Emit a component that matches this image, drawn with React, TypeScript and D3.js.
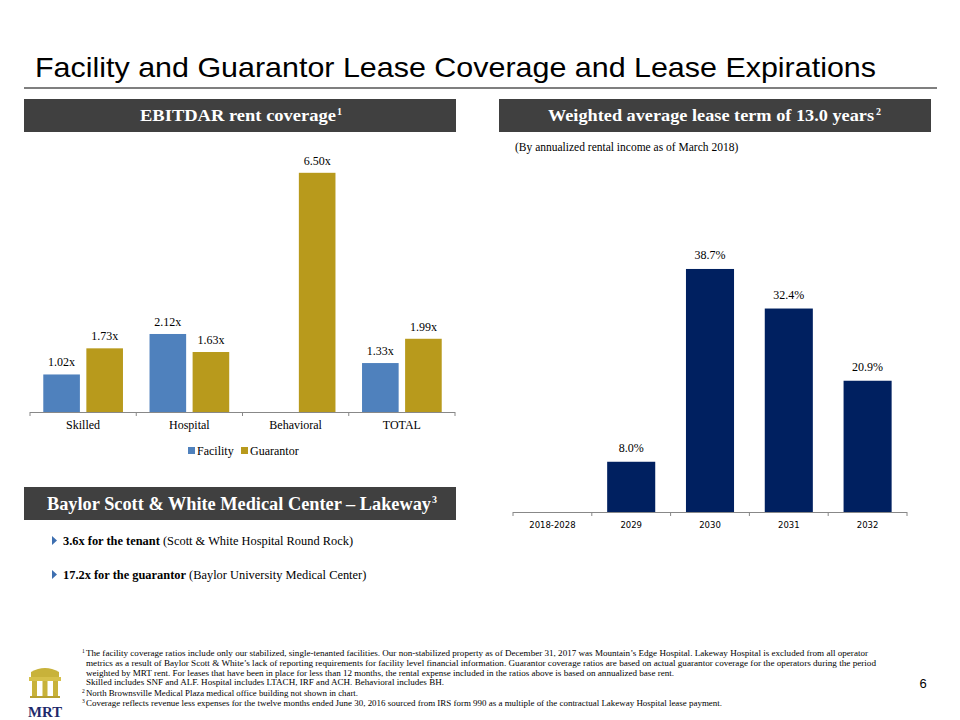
import React from "react";
import * as d3 from "d3";

const coverageCategories = ["Skilled", "Hospital", "Behavioral", "TOTAL"];
const coverageSeries = ["Facility", "Guarantor"];
const facilityValues: (number | null)[] = [1.02, 2.12, null, 1.33];
const guarantorValues: (number | null)[] = [1.73, 1.63, 6.5, 1.99];

const expiryCategories = ["2018-2028", "2029", "2030", "2031", "2032"];
const expiryValues: (number | null)[] = [null, 8.0, 38.7, 32.4, 20.9];

const footnotes = [
  { sup: "1", text: "The facility coverage ratios include only our stabilized, single-tenanted facilities. Our non-stabilized property as of December 31, 2017 was Mountain’s Edge Hospital. Lakeway Hospital is excluded from all operator", len: 782 },
  { sup: "", text: "metrics as a result of Baylor Scott & White’s lack of reporting requirements for facility level financial information. Guarantor coverage ratios are based on actual guarantor coverage for the operators during the period", len: 790 },
  { sup: "", text: "weighted by MRT rent. For leases that have been in place for less than 12 months, the rental expense included in the ratios above is based on annualized base rent.", len: 588 },
  { sup: "", text: "Skilled includes SNF and ALF. Hospital includes LTACH, IRF and ACH. Behavioral includes BH.", len: 358 },
  { sup: "2", text: "North Brownsville Medical Plaza medical office building not shown in chart.", len: 272 },
  { sup: "3", text: "Coverage reflects revenue less expenses for the twelve months ended June 30, 2016 sourced from IRS form 990 as a multiple of the contractual Lakeway Hospital lease payment.", len: 636 },
];

const SERIF = "'Liberation Serif', 'DejaVu Serif', serif";
const SANS = "'Liberation Sans', Arial, sans-serif";
const COLORS: Record<string, string> = { Facility: "#4F81BD", Guarantor: "#B89A1C" };
const NAVY = "#002060";
const HEADER = "#404040";

export default function App() {
  const lx = d3.scaleBand<string>().domain(coverageCategories).range([30, 455]).padding(0);
  const bw = lx.bandwidth();
  const lxInner = d3
    .scaleBand<string>()
    .domain(coverageSeries)
    .range([bw * 0.125, bw * 0.875])
    .paddingInner(0.15);
  const ly = d3.scaleLinear().domain([0, 7]).range([412, 412 - 7 * 36.8]);
  const seriesVals: Record<string, (number | null)[]> = {
    Facility: facilityValues,
    Guarantor: guarantorValues,
  };

  const rx = d3.scaleBand<string>().domain(expiryCategories).range([513, 907]).padding(0);
  const rbw = rx.bandwidth() * 0.61;
  const ry = d3.scaleLinear().domain([0, 40]).range([512, 512 - 40 * 6.28]);

  const leftTicks = coverageCategories.map((c) => lx(c)!).concat([455]);
  const rightTicks = expiryCategories.map((c) => rx(c)!).concat([907]);

  return (
    <svg width={960} height={720} style={{ position: "absolute", left: 0, top: 0, background: "#fff" }}>
      <rect x={0} y={0} width={960} height={720} fill="#fff" />
      <text x={35} y={77} fontFamily={SANS} fontSize={28} fill="#000" textLength={841} lengthAdjust="spacingAndGlyphs">
        Facility and Guarantor Lease Coverage and Lease Expirations
      </text>
      <line x1={24} x2={937} y1={88} y2={88} stroke="#000" strokeWidth={1.2} />

      <rect x={24} y={99} width={432} height={33} fill={HEADER} />
      <text x={140} y={121} fontFamily={SERIF} fontWeight="bold" fontSize={16} fill="#fff" textLength={196} lengthAdjust="spacingAndGlyphs">
        EBITDAR rent coverage
      </text>
      <text x={337} y={115} fontFamily={SERIF} fontWeight="bold" fontSize={10} fill="#fff">1</text>
      <rect x={499} y={99} width={432} height={33} fill={HEADER} />
      <text x={548} y={121} fontFamily={SERIF} fontWeight="bold" fontSize={16} fill="#fff" textLength={326} lengthAdjust="spacingAndGlyphs">
        Weighted average lease term of  13.0 years
      </text>
      <text x={876} y={115} fontFamily={SERIF} fontWeight="bold" fontSize={10} fill="#fff">2</text>

      <g>
        {coverageCategories.map((c, i) =>
          coverageSeries.map((s) => {
            const v = seriesVals[s][i];
            if (v == null) return null;
            const x = lx(c)! + lxInner(s)!;
            const w = lxInner.bandwidth();
            return (
              <g key={c + s}>
                <rect x={x} y={ly(v)} width={w} height={ly(0) - ly(v)} fill={COLORS[s]} />
                <text x={x + w / 2} y={ly(v) - 8} textAnchor="middle" fontFamily={SERIF} fontSize={12} fill="#000">
                  {v.toFixed(2)}x
                </text>
              </g>
            );
          })
        )}
        <line x1={30} x2={455} y1={412.5} y2={412.5} stroke="#888" strokeWidth={1} />
        {leftTicks.map((t, i) => (
          <line key={i} x1={t} x2={t} y1={412} y2={416} stroke="#888" strokeWidth={1} />
        ))}
        {coverageCategories.map((c) => (
          <text key={c} x={lx(c)! + bw / 2} y={429} textAnchor="middle" fontFamily={SERIF} fontSize={12} fill="#000">
            {c}
          </text>
        ))}
        {coverageSeries.map((s, i) => {
          const lxs = [188, 241][i];
          return (
            <g key={s}>
              <rect x={lxs} y={447} width={7} height={7} fill={COLORS[s]} />
              <text x={lxs + 9} y={455} fontFamily={SERIF} fontSize={12} fill="#000">
                {s}
              </text>
            </g>
          );
        })}
      </g>

      <g>
        <text x={515} y={151} fontFamily={SERIF} fontSize={11.5} fill="#000">
          (By annualized rental income as of March 2018)
        </text>
        {expiryCategories.map((c, i) => {
          const v = expiryValues[i];
          if (v == null) return null;
          const x = rx(c)! + (rx.bandwidth() - rbw) / 2;
          return (
            <g key={c}>
              <rect x={x} y={ry(v)} width={rbw} height={ry(0) - ry(v)} fill={NAVY} />
              <text x={x + rbw / 2} y={ry(v) - 10} textAnchor="middle" fontFamily={SERIF} fontSize={12} fill="#000">
                {v.toFixed(1)}%
              </text>
            </g>
          );
        })}
        <line x1={513} x2={907} y1={512.5} y2={512.5} stroke="#888" strokeWidth={1} />
        {rightTicks.map((t, i) => (
          <line key={i} x1={t} x2={t} y1={512} y2={516} stroke="#888" strokeWidth={1} />
        ))}
        {expiryCategories.map((c) => (
          <text key={c} x={rx(c)! + rx.bandwidth() / 2} y={528} textAnchor="middle" fontFamily="'DejaVu Sans', Verdana, sans-serif" fontSize={8.5} fill="#000">
            {c}
          </text>
        ))}
      </g>

      <rect x={24} y={487} width={432} height={33} fill={HEADER} />
      <text x={47} y={510} fontFamily={SERIF} fontWeight="bold" fontSize={18} fill="#fff" textLength={384} lengthAdjust="spacingAndGlyphs">
        Baylor Scott &amp; White Medical Center – Lakeway
      </text>
      <text x={432} y={503} fontFamily={SERIF} fontWeight="bold" fontSize={10} fill="#fff">3</text>
      {[
        { y: 545, bold: "3.6x for the tenant", rest: " (Scott & White Hospital Round Rock)" },
        { y: 579, bold: "17.2x for the guarantor", rest: " (Baylor University Medical Center)" },
      ].map((b) => (
        <g key={b.y}>
          <path d={`M52,${b.y - 9} L57,${b.y - 4.5} L52,${b.y} Z`} fill="#3E6FB0" />
          <text x={63} y={b.y} fontFamily={SERIF} fontSize={12.4} fill="#000">
            <tspan fontWeight="bold">{b.bold}</tspan>
            <tspan>{b.rest}</tspan>
          </text>
        </g>
      ))}

      {footnotes.map((f, i) => {
        const y = [656, 666, 676, 685, 696, 706][i];
        return (
          <g key={i}>
            {f.sup && (
              <text x={82} y={y - 3} fontFamily={SERIF} fontSize={5.5} fill="#000">
                {f.sup}
              </text>
            )}
            <text x={86} y={y} fontFamily={SERIF} fontSize={7.6} fill="#000" textLength={f.len} lengthAdjust="spacingAndGlyphs">
              {f.text}
            </text>
          </g>
        );
      })}

      <g>
        <path d="M31,672 Q45,664 59,672 L59,677 L31,677 Z" fill="#C8B23A" />
        <rect x={29} y={677} width={32} height={4} fill="#D6C04A" />
        <rect x={32} y={681} width={5} height={15} fill="#C8B23A" />
        <rect x={42.5} y={681} width={5} height={15} fill="#C8B23A" />
        <rect x={53} y={681} width={5} height={15} fill="#C8B23A" />
        <rect x={30} y={696} width={30} height={2} fill="#B8A030" />
        <text x={45} y={717} textAnchor="middle" fontFamily={SERIF} fontWeight="bold" fontSize={15} fill="#1F2A6B" textLength={34} lengthAdjust="spacingAndGlyphs">
          MRT
        </text>
      </g>

      <text x={923} y={688} textAnchor="middle" fontFamily={SANS} fontSize={13} fill="#000">
        6
      </text>
    </svg>
  );
}
